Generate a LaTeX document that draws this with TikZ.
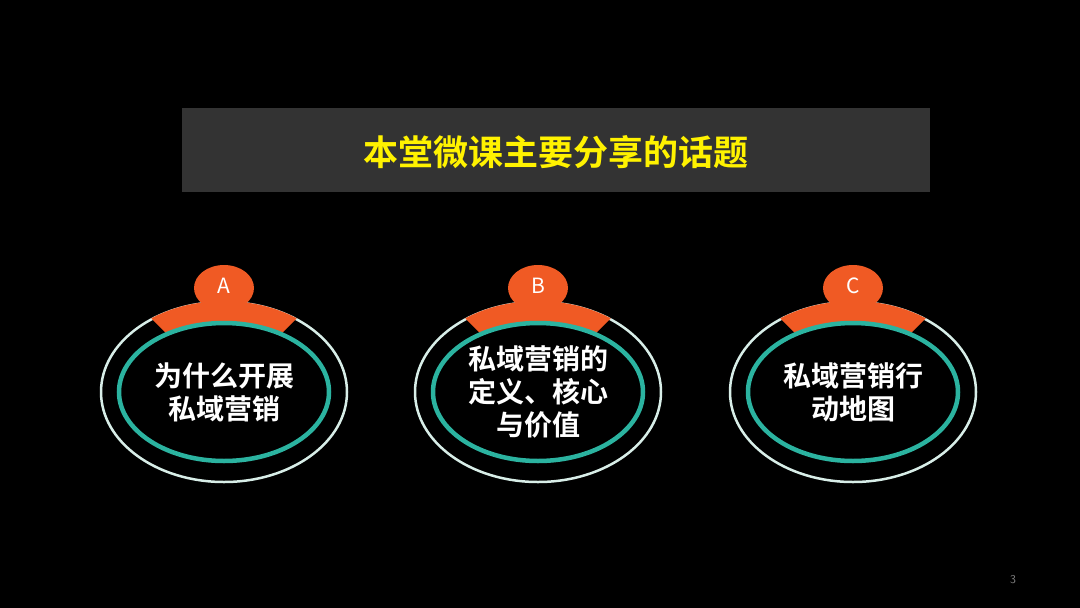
\documentclass[tikz,border=0pt]{standalone}
\usepackage{fontspec}
\newfontfamily\cjk{Noto Sans CJK SC Bold}
\newfontfamily\cjkr{Noto Sans CJK SC}
\begin{document}
\begin{tikzpicture}[x=1pt,y=-1pt,
  lbl/.style={font=\cjk\fontsize{28}{33}\selectfont,text=white,align=center},
  tab/.style={font=\cjkr\fontsize{21}{21}\selectfont,text=white}]
\definecolor{org}{HTML}{F05A24}
\definecolor{teal}{HTML}{2BB3A0}
\definecolor{rim}{HTML}{D8EEE8}
\fill[black] (0,0) rectangle (1080,608);
\useasboundingbox (0,0) rectangle (1080,608);
\fill[fill={rgb,255:red,51;green,51;blue,51}] (182,108) rectangle (930,192);
\node[font=\cjk\fontsize{35}{35}\selectfont,text={rgb,255:red,255;green,242;blue,0}] (title) at (556,152) {本堂微课主要分享的话题};
\foreach \cx/\k/\t in {224/A/{为什么开展\\私域营销},538/B/{私域营销的\\定义、核心\\与价值},853/C/{私域营销行\\动地图}}{
  \draw[rim,line width=2.5pt] (\cx,392) ellipse [x radius=123,y radius=90];
  \begin{scope}
    \clip (\cx,392) -- ++(-144,-146) -- ++(288,0) -- cycle;
    \fill[org,even odd rule] (\cx,392) ellipse [x radius=124,y radius=91] (\cx,392) ellipse [x radius=105,y radius=69];
  \end{scope}
  \fill[org] (\cx,288) ellipse [x radius=30,y radius=23];
  \draw[teal,line width=4.5pt] (\cx,392) ellipse [x radius=105,y radius=69];
  \node[tab] (tab\k) at (\cx,286) {\k};
  \node[lbl] (lab\k) at (\cx,392) {\t};
}
\node[font=\sffamily\fontsize{12}{12}\selectfont,text=gray] (pg) at (1013,580) {3};
\end{tikzpicture}
\end{document}
